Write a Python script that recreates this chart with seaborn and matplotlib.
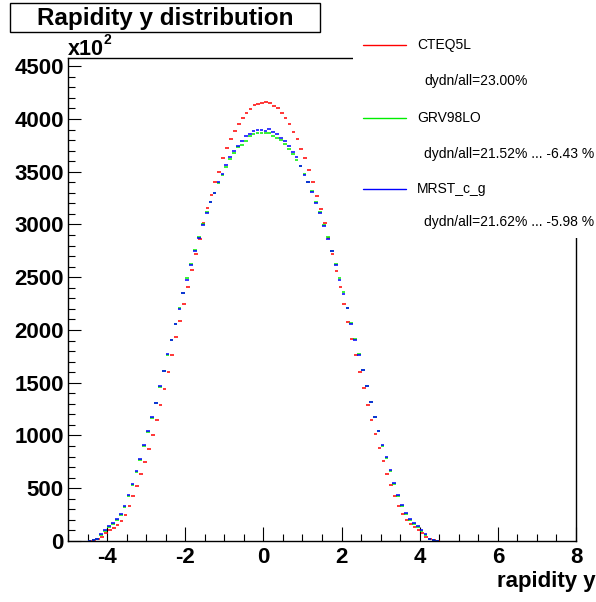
import numpy as np
import pandas as pd
import matplotlib
matplotlib.use("Agg")
import matplotlib.pyplot as plt
import seaborn as sns
from matplotlib.lines import Line2D
from matplotlib.patches import Rectangle
from matplotlib.ticker import MultipleLocator

# Rapidity bins: width 0.1 between -4.5 and 4.5 (bin centres)
bin_centers = np.round(np.arange(-4.45, 4.5, 0.1), 2)

# Entries per bin (in units of 10^2)
cteq5l = [
    2, 5, 16, 41, 73,
    101, 123, 152, 192, 249,
    332, 423, 524, 635, 751,
    872, 1001, 1146, 1288, 1440,
    1601, 1765, 1932, 2084, 2245,
    2406, 2564, 2719, 2865, 3010,
    3152, 3281, 3404, 3502, 3628,
    3729, 3808, 3890, 3950, 4014,
    4061, 4099, 4130, 4143, 4150,
    4162, 4152, 4124, 4105, 4058,
    4007, 3950, 3877, 3808, 3716,
    3628, 3514, 3404, 3271, 3145,
    3015, 2875, 2719, 2555, 2406,
    2248, 2077, 1916, 1759, 1598,
    1446, 1291, 1149, 1011, 884,
    755, 638, 530, 423, 332,
    256, 196, 158, 130, 101,
    73, 41, 16, 5, 2,
]
grv98lo = [
    1, 6, 18, 55, 98,
    135, 165, 198, 250, 325,
    428, 535, 655, 770, 902,
    1032, 1170, 1305, 1460, 1608,
    1763, 1905, 2058, 2205, 2355,
    2492, 2625, 2755, 2878, 3000,
    3118, 3212, 3303, 3390, 3470,
    3546, 3622, 3678, 3732, 3758,
    3789, 3839, 3855, 3865, 3868,
    3868, 3868, 3843, 3821, 3799,
    3761, 3716, 3669, 3609, 3552,
    3480, 3405, 3316, 3215, 3115,
    2995, 2883, 2750, 2625, 2491,
    2356, 2204, 2068, 1915, 1771,
    1620, 1470, 1315, 1172, 1040,
    900, 785, 660, 540, 430,
    335, 258, 202, 165, 133,
    98, 60, 20, 5, 1,
]
mrst_c_g = [
    2, 8, 22, 62, 105,
    143, 174, 205, 258, 333,
    435, 543, 662, 777, 910,
    1039, 1178, 1312, 1468, 1613,
    1769, 1904, 2053, 2198, 2349,
    2475, 2617, 2744, 2870, 2996,
    3110, 3211, 3300, 3398, 3480,
    3565, 3641, 3697, 3748, 3796,
    3836, 3862, 3890, 3900, 3900,
    3887, 3905, 3881, 3862, 3821,
    3796, 3748, 3685, 3638, 3552,
    3470, 3401, 3307, 3208, 3110,
    2984, 2858, 2744, 2617, 2472,
    2337, 2204, 2059, 1907, 1765,
    1617, 1465, 1320, 1178, 1042,
    906, 793, 670, 546, 436,
    338, 262, 208, 170, 139,
    104, 63, 22, 5, 1,
]

pdf_names = ["CTEQ5L", "GRV98LO", "MRST_c_g"]
pdf_notes = ["dydn/all=23.00%", "dydn/all=21.52% ... -6.43 %", "dydn/all=21.62% ... -5.98 %"]
x_ticks = [-4, -2, 0, 2, 4, 6, 8]
y_ticks = [0, 500, 1000, 1500, 2000, 2500, 3000, 3500, 4000, 4500]

palette = {"CTEQ5L": "#ff0000", "GRV98LO": "#00ee00", "MRST_c_g": "#0000ff"}
x_shift = {"CTEQ5L": 0.02, "GRV98LO": 0.0, "MRST_c_g": 0.0}

df = pd.DataFrame({
    "rapidity": np.tile(bin_centers, 3),
    "events": np.concatenate([cteq5l, grv98lo, mrst_c_g]),
    "pdf": np.repeat(pdf_names, len(bin_centers)),
})
df["x_draw"] = df["rapidity"] + df["pdf"].map(x_shift)

sns.set_theme(style="ticks")
plt.rcParams["font.family"] = ["Liberation Sans", "DejaVu Sans"]
plt.rcParams.update({
    "text.color": "black",
    "axes.labelcolor": "black",
    "xtick.color": "black",
    "ytick.color": "black",
    "axes.edgecolor": "black",
})

W, H = 596, 602
fig = plt.figure(figsize=(W / 100, H / 100), dpi=100)
fig.patch.set_facecolor("white")


def fx(px):
    return px / W


def fy(py):
    return 1 - py / H


ax = fig.add_axes([fx(68), fy(541), fx(576) - fx(68), fy(58) - fy(541)])
ax.set_facecolor("white")

sns.scatterplot(
    data=df, x="x_draw", y="events", hue="pdf", hue_order=pdf_names,
    palette=palette, marker="_", s=7, linewidth=1.1, legend=False, ax=ax,
)

ax.set_xlim(-5, 8)
ax.set_ylim(0, 4578)
ax.set_xticks(x_ticks)
ax.set_yticks(y_ticks)
ax.xaxis.set_minor_locator(MultipleLocator(0.5))
ax.yaxis.set_minor_locator(MultipleLocator(100))
ax.set_xticklabels([str(t) for t in x_ticks], fontsize=16, fontweight="bold")
ax.set_yticklabels([str(t) for t in y_ticks], fontsize=16, fontweight="bold")
ax.tick_params(axis="x", which="major", direction="in", length=10, width=0.8,
               color="black", labelcolor="black", pad=4)
ax.tick_params(axis="x", which="minor", direction="in", length=5, width=0.8, color="black")
ax.tick_params(axis="y", which="major", direction="in", length=9, width=0.8,
               color="black", labelcolor="black", pad=3)
ax.tick_params(axis="y", which="minor", direction="in", length=5, width=0.8, color="black")
for side in ["left", "bottom", "top", "right"]:
    ax.spines[side].set_visible(True)
    ax.spines[side].set_color("black")
    ax.spines[side].set_linewidth(1.0)

ax.set_ylabel("")
ax.set_xlabel("rapidity y", fontsize=16, fontweight="bold", ha="right", color="black")
ax.xaxis.set_label_coords((596 - 68) / (576 - 68), -0.062)

# exponent marker for the y axis
fig.text(fx(68), fy(55), "x10", fontsize=15.5, fontweight="bold", ha="left", va="baseline")
fig.text(fx(103), fy(44), "2", fontsize=10, fontweight="bold", ha="left", va="baseline")

# title box
fig.add_artist(Rectangle((fx(10), fy(32)), fx(320) - fx(10), fy(3) - fy(32),
                         transform=fig.transFigure, facecolor="white",
                         edgecolor="black", linewidth=1.0, zorder=5))
fig.text(fx(165), fy(18), "Rapidity y distribution", fontsize=17.5, fontweight="bold",
         ha="center", va="center", zorder=6)

# legend panel
fig.add_artist(Rectangle((fx(353), fy(238)), fx(596) - fx(353), fy(30) - fy(238),
                         transform=fig.transFigure, facecolor="white",
                         edgecolor="none", zorder=5))
entry_rows = [45, 118, 189]
note_rows = [81, 154, 222]
for name, note, yr, yn in zip(pdf_names, pdf_notes, entry_rows, note_rows):
    fig.add_artist(Line2D([fx(363), fx(406)], [fy(yr), fy(yr)], color=palette[name],
                          linewidth=1.0, transform=fig.transFigure, zorder=6))
    fig.text(fx(417), fy(yr), name, fontsize=10, ha="left", va="center", zorder=6)
    fig.text(fx(424), fy(yn), note, fontsize=10, ha="left", va="center", zorder=6)

fig.savefig("out.png", dpi=100, facecolor="white")
